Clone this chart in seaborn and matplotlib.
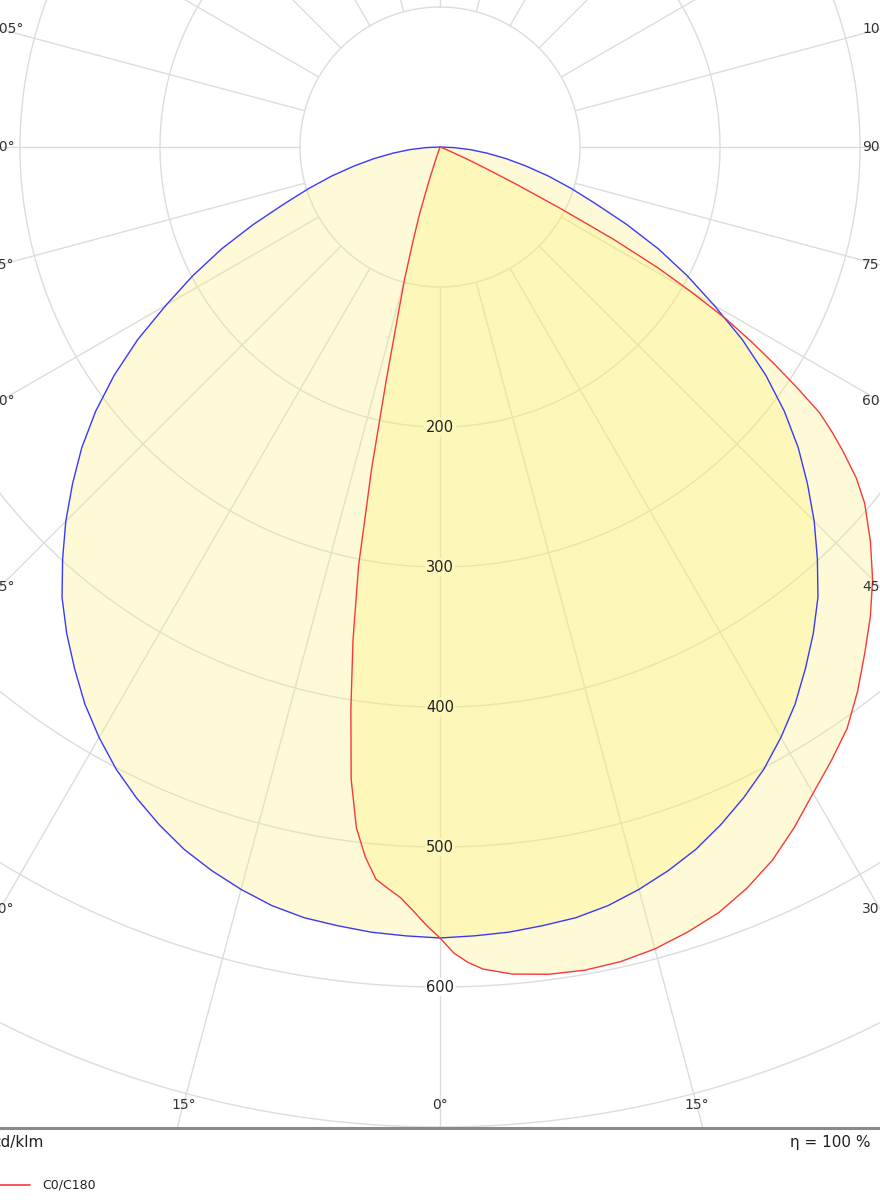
import numpy as np
import pandas as pd
import matplotlib
matplotlib.use('Agg')
import matplotlib.pyplot as plt
import seaborn as sns
from matplotlib.lines import Line2D

# luminous intensity (cd/klm), gamma in degrees from nadir
gamma_c0 = [0, 1, 2, 3, 5, 7.5, 10, 12.5, 15, 17.5, 20, 22.5, 25, 27.5, 30,
            32.5, 35, 37.5, 40, 42.5, 45, 47.5, 50, 51.5, 53, 54, 55, 56, 57,
            58, 59, 60, 61, 62, 63, 64, 65, 66, 68, 70, 90]
cd_c0 = [565, 576, 583, 588, 593, 596, 597, 596, 593, 588, 582, 573, 562, 548,
         533, 520, 507, 490, 472, 455, 437, 417, 396, 380, 360, 346, 331, 308,
         285, 262, 238, 208, 178, 140, 95, 60, 35, 20, 5, 0, 0]

gamma_c180 = [0, 1, 2, 3, 4, 5, 6, 7, 8, 9, 10, 11, 12, 13, 14, 15, 16, 17,
              18, 19, 20, 90]
cd_c180 = [565, 556, 546, 537, 531, 525, 510, 490, 456, 407, 358, 305, 235,
           170, 125, 98, 70, 50, 25, 8, 0, 0]

gamma_c90 = [0, 2.5, 5, 7.5, 10, 12.5, 15, 17.5, 20, 22.5, 25, 27.5, 30, 32.5,
             35, 37.5, 40, 42.5, 45, 47.5, 50, 52.5, 55, 57.5, 60, 62.5, 65,
             67.5, 70, 72.5, 75, 77.5, 80, 82.5, 85, 87.5, 90]
cd_c90 = [565, 564, 563, 561, 559, 555, 549, 542, 534, 524, 513, 501, 487,
          472, 455, 438, 420, 399, 378, 356, 334, 310, 284, 256, 226, 199, 172,
          144, 118, 98, 80, 63, 48, 34, 22, 10, 0]

ring_values = [100, 200, 300, 400, 500, 600, 700, 800]
ring_labels = [200, 300, 400, 500, 600]
angle_ticks = [0, 15, 30, 45, 60, 75, 90, 105]

# pixel layout of the diagram
W, H = 880, 1200
PX = 1.4            # pixels per cd/klm
CX, CY = 440, 147   # pole position in pixels
BOTTOM = 1127       # lower edge of the plot area


def curve_xy(g_left, v_left, g_right, v_right):
    gl = np.radians(np.array(g_left, float))[::-1]
    vl = np.array(v_left, float)[::-1]
    gr = np.radians(np.array(g_right, float))[1:]
    vr = np.array(v_right, float)[1:]
    x = np.concatenate([-vl * np.sin(gl), vr * np.sin(gr)])
    y = np.concatenate([-vl * np.cos(gl), -vr * np.cos(gr)])
    return pd.DataFrame({'x': x, 'y': y})


sns.set_style('white')
plt.rcParams['font.family'] = ['DejaVu Sans']

fig = plt.figure(figsize=(W / 100, H / 100), dpi=100)
ax = fig.add_axes([0, (H - BOTTOM) / H, 1, BOTTOM / H])

grid_col = '#dcdcdc'
t = np.linspace(0, 2 * np.pi, 721)
for r in ring_values:
    ax.plot(r * np.sin(t), r * np.cos(t), color=grid_col, lw=1.0, zorder=1)
for a in range(0, 360, 15):
    s, c = np.sin(np.radians(a)), np.cos(np.radians(a))
    ax.plot([100 * s, 1200 * s], [-100 * c, -1200 * c], color=grid_col,
            lw=1.0, zorder=1)

# white patches under the radial labels hide the grid lines
for v in ring_labels:
    ax.text(0, -v, str(v), ha='center', va='center', fontsize=10.5,
            color='none', zorder=1.5,
            bbox=dict(facecolor='white', edgecolor='none', pad=1.0))

red = curve_xy(gamma_c180, cd_c180, gamma_c0, cd_c0)
blue = curve_xy(gamma_c90, cd_c90, gamma_c90, cd_c90)

fill_col = '#fcf06c'
ax.fill(blue['x'], blue['y'], color=fill_col, alpha=0.27, lw=0, zorder=2)
ax.fill(red['x'], red['y'], color=fill_col, alpha=0.27, lw=0, zorder=2)

sns.lineplot(data=blue, x='x', y='y', sort=False, estimator=None,
             color='#3a3af5', lw=1.0, ax=ax, zorder=3)
sns.lineplot(data=red, x='x', y='y', sort=False, estimator=None,
             color='#f53a3a', lw=1.0, ax=ax, zorder=3)
ax.set_xlim(-CX / PX, (W - CX) / PX)
ax.set_ylim(-(BOTTOM - CY) / PX, CY / PX)
ax.axis('off')

for v in ring_labels:
    ax.text(0, -v, str(v), ha='center', va='center', fontsize=10.5,
            color='#222222', zorder=4)

# angle labels along the edges of the plot area
lab_col = '#333333'
for a in angle_ticks:
    s, c = np.sin(np.radians(a)), np.cos(np.radians(a))
    for side in (-1, 1):
        if a == 0 and side == 1:
            continue
        y_side = CY + CX * c / s if s > 1e-6 else 1e9
        if y_side > BOTTOM - 22:
            y_px = BOTTOM - 22
            x_px = CX + side * (y_px - CY) * s / c
            ha = 'center'
        else:
            y_px = y_side
            x_px = -10 if side < 0 else 862
            ha = 'left'
        ax.text((x_px - CX) / PX, (CY - y_px) / PX, f'{a}°', ha=ha,
                va='center', fontsize=10, color=lab_col, clip_on=False)

# footer
fig.add_artist(Line2D([0, 1], [1 - (BOTTOM + 1) / H] * 2, color='#8a8a8a',
                      lw=2.2, transform=fig.transFigure))
fig.text(-8 / W, 1 - 1143 / H, 'cd/klm', ha='left', va='center',
         fontsize=11, color='#222222')
fig.text(790 / W, 1 - 1143 / H, 'η = 100 %', ha='left', va='center',
         fontsize=11, color='#222222')
fig.add_artist(Line2D([-5 / W, 30 / W], [1 - 1185 / H] * 2, color='#f53a3a',
                      lw=1.2, transform=fig.transFigure))
fig.text(42 / W, 1 - 1185 / H, 'C0/C180', ha='left', va='center',
         fontsize=9, color='#222222')

fig.savefig('out.png', dpi=100, facecolor='white')
